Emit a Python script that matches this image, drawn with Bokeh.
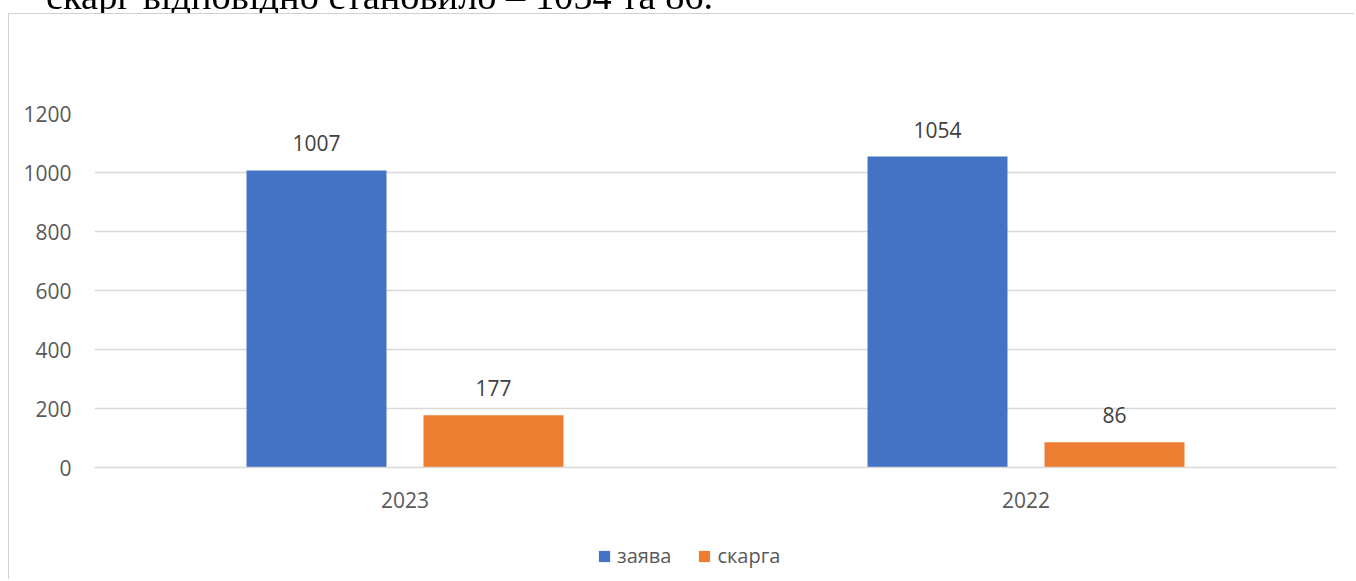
from bokeh.plotting import figure
from bokeh.models import (ColumnDataSource, FactorRange, Range1d, SingleIntervalTicker,
                          Legend, LegendItem, Div)
from bokeh.transform import dodge
from bokeh.layouts import column
from bokeh.core.properties import value
from bokeh.embed import file_html
from bokeh.resources import INLINE

# ---- data ----
years = ["2023", "2022"]
zayava = [1007, 1054]
skarha = [177, 86]
series_names = ["заява", "скарга"]
heading_text = "скарг відповідно становило – 1054 та 86."

BLUE = "#4472C4"
ORANGE = "#ED7D31"
FONT = "Open Sans"
BORDER = "1px solid #d0d0d0"

src = ColumnDataSource(dict(
    year=years,
    zayava=zayava,
    skarha=skarha,
    zayava_lbl=[str(v) for v in zayava],
    skarha_lbl=[str(v) for v in skarha],
))

p = figure(
    x_range=FactorRange(factors=years),
    y_range=Range1d(0, 1200),
    width=1346, height=519,
    output_backend="svg", toolbar_location=None,
    min_border_left=85, min_border_right=19,
    min_border_top=99, min_border_bottom=66,
    styles={"border-left": BORDER, "border-top": BORDER},
    margin=(0, 0, 0, 8),
)
p.outline_line_color = None
p.background_fill_color = "white"
p.border_fill_color = "white"

off = 0.1425
bw = 0.2254
p.vbar(x=dodge("year", -off, range=p.x_range), top="zayava", width=bw,
       source=src, fill_color=BLUE, line_color=None)
p.vbar(x=dodge("year", off, range=p.x_range), top="skarha", width=bw,
       source=src, fill_color=ORANGE, line_color=None)

p.text(x=dodge("year", -off, range=p.x_range), y="zayava", text="zayava_lbl", source=src,
       text_align="center", text_baseline="middle", y_offset=-27,
       text_font=value(FONT), text_font_size="21px", text_color="#404040")
p.text(x=dodge("year", off, range=p.x_range), y="skarha", text="skarha_lbl", source=src,
       text_align="center", text_baseline="middle", y_offset=-27,
       text_font=value(FONT), text_font_size="21px", text_color="#404040")

# axes
p.yaxis.ticker = SingleIntervalTicker(interval=200)
p.yaxis.axis_line_color = None
p.yaxis.major_tick_line_color = None
p.yaxis.minor_tick_line_color = None
p.yaxis.major_label_standoff = 17
p.yaxis.major_label_text_font = FONT
p.yaxis.major_label_text_font_size = "21px"
p.yaxis.major_label_text_color = "#595959"

p.xaxis.axis_line_color = "#d9d9d9"
p.xaxis.axis_line_width = 1.5
p.xaxis.major_tick_line_color = None
p.xaxis.minor_tick_line_color = None
p.xaxis.major_label_standoff = 18
p.xaxis.major_label_text_font = FONT
p.xaxis.major_label_text_font_size = "21px"
p.xaxis.major_label_text_color = "#595959"

p.xgrid.grid_line_color = None
p.ygrid.grid_line_color = "#d9d9d9"
p.ygrid.grid_line_width = 1.5

# legend strip (same chart area, continues below the axis labels);
# its renderers share the series data but lie outside its visible y range
q = figure(
    x_range=p.x_range, y_range=Range1d(5000, 6000),
    width=1346, height=47,
    output_backend="svg", toolbar_location=None,
    x_axis_location=None, y_axis_location=None,
    min_border=0, min_border_left=0, min_border_right=0,
    min_border_top=0, min_border_bottom=0,
    styles={"border-left": BORDER},
    margin=(0, 0, 0, 8),
)
q.outline_line_color = None
q.xgrid.grid_line_color = None
q.ygrid.grid_line_color = None
q.border_fill_color = "white"
q.background_fill_color = "white"
k1 = q.vbar(x=dodge("year", -off, range=p.x_range), top="zayava", width=bw,
            source=src, fill_color=BLUE, line_color=None)
k2 = q.vbar(x=dodge("year", off, range=p.x_range), top="skarha", width=bw,
            source=src, fill_color=ORANGE, line_color=None)

legend = Legend(
    items=[LegendItem(label=series_names[0], renderers=[k1]),
           LegendItem(label=series_names[1], renderers=[k2])],
    location=(503, 10), orientation="horizontal",
    glyph_width=14, glyph_height=14, label_height=14, label_standoff=6, spacing=26,
    padding=0, margin=0, border_line_color=None, background_fill_alpha=0,
    label_text_font=FONT, label_text_font_size="20px", label_text_color="#595959",
)
q.add_layout(legend, "center")

head = Div(
    text=('<div style="position:fixed;top:0px;left:0px;width:1356px;height:13px;overflow:hidden;">'
          '<div style="position:absolute;top:-23px;left:46px;'
          "font-family:'Liberation Serif';font-size:38.4px;line-height:38px;"
          'white-space:nowrap;color:#000;">' + heading_text + '</div></div>'),
    width=1346, height=13, margin=0,
)

layout = column(head, p, q, spacing=0)

open("out.html", "w", encoding="utf-8").write(file_html(layout, INLINE))
